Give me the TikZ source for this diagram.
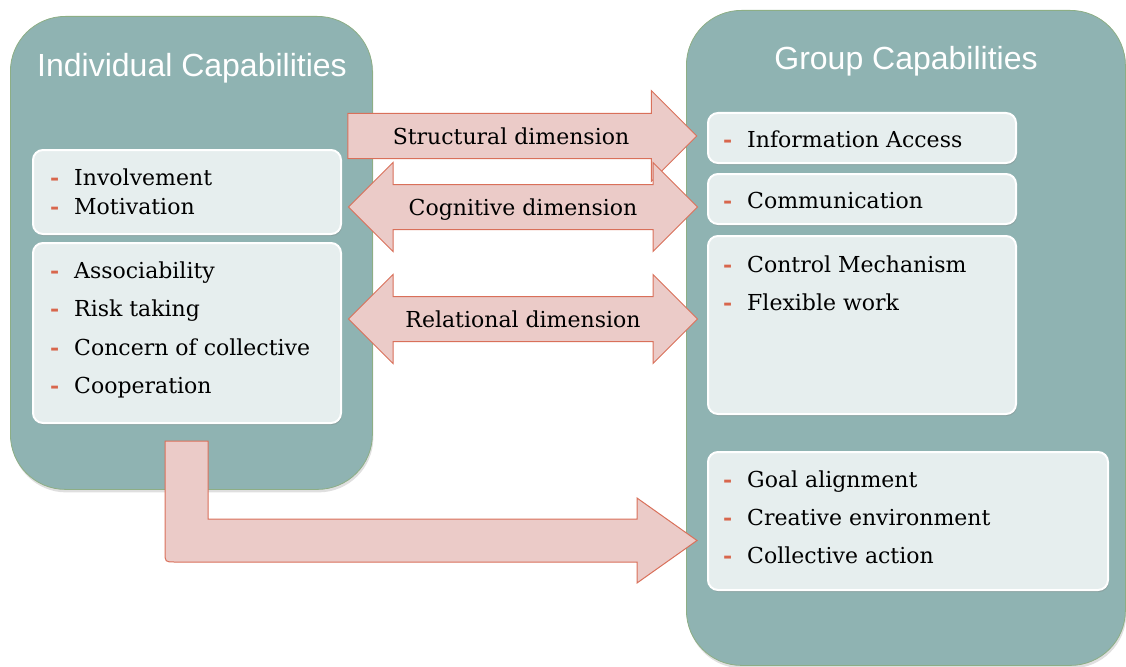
\documentclass[tikz,border=0pt]{standalone}
\usepackage{fontspec}
\setmainfont{DejaVu Serif}
\newfontfamily\headfont{Liberation Sans}
\usetikzlibrary{shapes.arrows,shadows}
\definecolor{capfill}{HTML}{8FB3B2}
\definecolor{capline}{HTML}{8DAE85}
\definecolor{listfill}{HTML}{E6EEEE}
\definecolor{arrowfill}{HTML}{EBCBC8}
\definecolor{arrowline}{HTML}{D9705A}
\definecolor{dashred}{HTML}{D8664C}
\newcommand\dashitem[1]{\makebox[24pt][l]{\textcolor{dashred}{\bfseries -}}#1}

\begin{document}
\begin{tikzpicture}[x=1pt,y=-1pt,
  capbox/.style={draw=capline, fill=capfill, line width=0.8pt, rounded corners=55pt, anchor=north west,
    drop shadow={opacity=0.25, shadow xshift=1pt, shadow yshift=-3pt}},
  captitle/.style={text=white, font=\headfont\fontsize{32}{38}\selectfont, anchor=base, inner sep=0pt},
  listbox/.style={draw=white, fill=listfill, line width=2pt, rounded corners=10pt, anchor=north west,
    drop shadow={opacity=0.3, shadow xshift=1pt, shadow yshift=-2pt}},
  listitem/.style={anchor=base west, inner sep=0pt, font=\fontsize{22}{26}\selectfont},
  dimarrow/.style={draw=arrowline, fill=arrowfill, line width=1pt, font=\fontsize{22}{26}\selectfont,
    text height=19pt, text depth=2pt, inner ysep=11.5pt, inner xsep=0pt, minimum height=349pt},
]
\useasboundingbox (0,0) rectangle (1126,666);

% the two capability blocks
\node[capbox, minimum width=362pt, minimum height=473pt] (indiv) at (10,16) {};
\node[capbox, minimum width=439pt, minimum height=655pt] (group) at (686,10) {};
\node[captitle] (indivtitle) at (192,77) {Individual Capabilities};
\node[captitle] (grouptitle) at (906,70) {Group Capabilities};

% lists
\node[listbox, minimum width=308pt, minimum height=84pt] (motivbox) at (32,149) {};
\node[listbox, minimum width=308pt, minimum height=180pt] (socialbox) at (32,242) {};
\node[listbox, minimum width=308pt, minimum height=50pt] (infobox) at (707,112) {};
\node[listbox, minimum width=308pt, minimum height=50pt] (commbox) at (707,173) {};
\node[listbox, minimum width=308pt, minimum height=178pt] (controlbox) at (707,235) {};
\node[listbox, minimum width=400pt, minimum height=138pt] (goalbox) at (707,451) {};

\def\lx{50}
\def\rx{723}
\foreach \t [count=\k] in {Involvement, Motivation}
  \node[listitem] (motiv\k) at (\lx,{185+29*(\k-1)}) {\dashitem{\t}};
\foreach \t [count=\k] in {Associability, Risk taking, Concern of collective, Cooperation}
  \node[listitem] (social\k) at (\lx,{278+38.5*(\k-1)}) {\dashitem{\t}};
\node[listitem] (info1) at (\rx,147) {\dashitem{Information Access}};
\node[listitem] (comm1) at (\rx,208) {\dashitem{Communication}};
\foreach \t [count=\k] in {Control Mechanism, Flexible work}
  \node[listitem] (control\k) at (\rx,{272+38*(\k-1)}) {\dashitem{\t}};
\foreach \t [count=\k] in {Goal alignment, Creative environment, Collective action}
  \node[listitem] (goal\k) at (\rx,{487+38*(\k-1)}) {\dashitem{\t}};

% dimensions
\node[dimarrow, single arrow, single arrow head extend=23pt] (structural) at (511,136) {Structural dimension};
\node[dimarrow, double arrow, double arrow head extend=22pt] (cognitive) at (523,207) {Cognitive dimension};
\node[dimarrow, double arrow, double arrow head extend=22pt] (relational) at (523,319) {Relational dimension};

% bent arrow from individual to group
\coordinate (benttail) at (186.5,441);
\coordinate (benttip) at (697,540.5);
\draw[draw=arrowline, fill=arrowfill, line width=1pt]
  (208,441) -- (208,519) -- (637,519) -- (637,498) -- (benttip) -- (637,583) -- (637,562)
  -- (175,562) .. controls (165,562) .. (165,552) -- (165,441) -- cycle;
\end{tikzpicture}
\end{document}
